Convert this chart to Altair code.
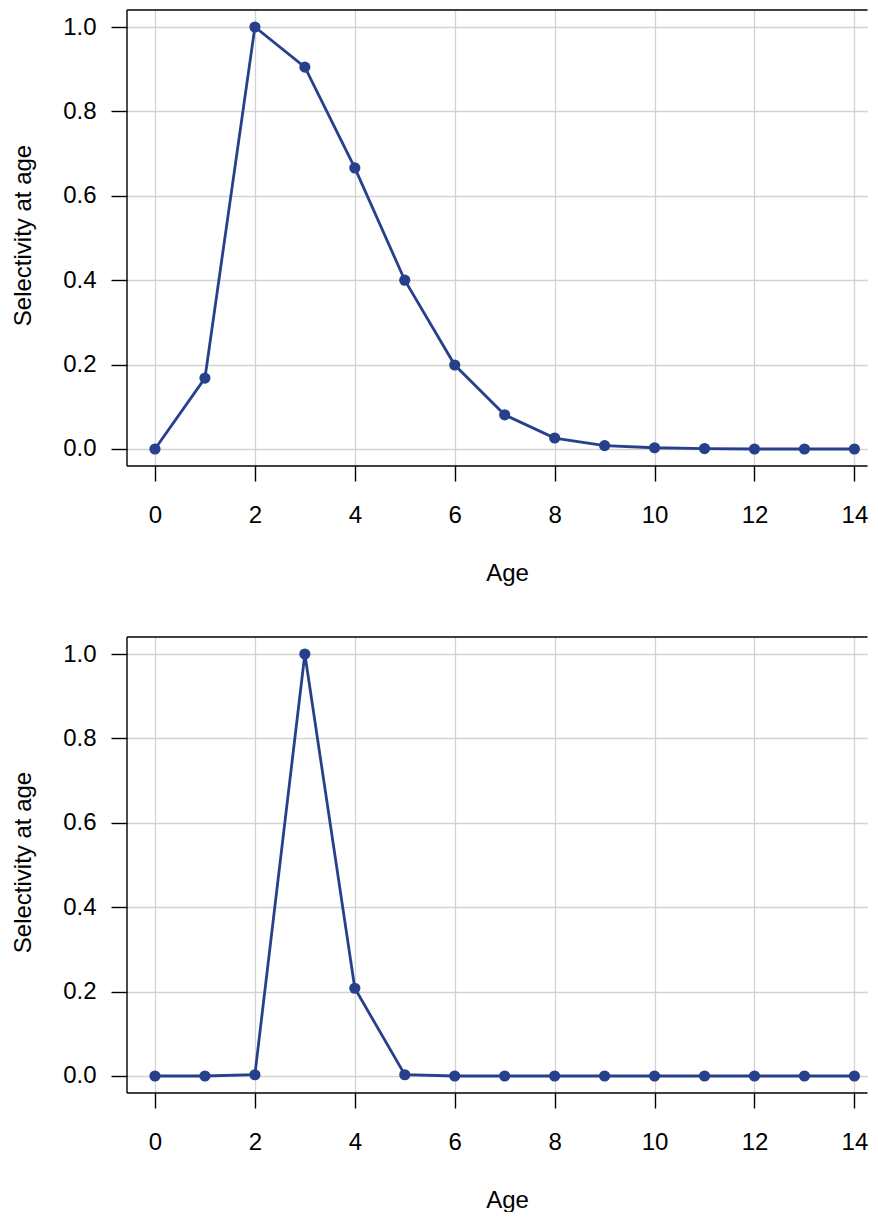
import altair as alt
import pandas as pd

ages = list(range(15))
sel_top = [0.0, 0.168, 1.0, 0.905, 0.666, 0.400, 0.199, 0.081, 0.026, 0.008, 0.003, 0.001, 0.0, 0.0, 0.0]
sel_bottom = [0.0, 0.0, 0.003, 1.0, 0.208, 0.003, 0.0, 0.0, 0.0, 0.0, 0.0, 0.0, 0.0, 0.0, 0.0]
x_ticks = [0, 2, 4, 6, 8, 10, 12, 14]
y_ticks = [0.0, 0.2, 0.4, 0.6, 0.8, 1.0]

X_DOMAIN = [-0.56, 14.262]
Y_DOMAIN = [-0.0403, 1.0403]

COLOR = "#27408B"
FONT = "Liberation Sans"


def panel(values):
    df = pd.DataFrame({"Age": ages, "Sel": values})
    x = alt.X(
        "Age:Q",
        scale=alt.Scale(domain=X_DOMAIN, nice=False, zero=False),
        axis=alt.Axis(
            values=x_ticks,
            title="Age",
            tickSize=15,
            labelPadding=41,
            labelBaseline="alphabetic",
            titleY=114,
            titleX=380,
            titleBaseline="alphabetic",
        ),
    )
    y = alt.Y(
        "Sel:Q",
        scale=alt.Scale(domain=Y_DOMAIN, nice=False, zero=False),
        axis=alt.Axis(
            values=y_ticks,
            format=".1f",
            title="Selectivity at age",
            tickSize=16,
            labelPadding=15,
            titleX=-96.5,
            titleY=225,
            titleBaseline="alphabetic",
            titleAngle=270,
        ),
    )
    base = alt.Chart(df).encode(x=x, y=y)
    line = base.mark_line(color=COLOR, strokeWidth=2.8)
    pts = base.mark_circle(color=COLOR, size=125, opacity=1)

    one = pd.DataFrame({"k": [0]})
    frame_style = dict(color="black", strokeWidth=1.4)
    top_edge = alt.Chart(one).mark_rule(**frame_style).encode(y=alt.datum(Y_DOMAIN[1]))
    bottom_edge = alt.Chart(one).mark_rule(**frame_style).encode(y=alt.datum(Y_DOMAIN[0]))
    left_edge = alt.Chart(one).mark_rule(**frame_style).encode(x=alt.datum(X_DOMAIN[0]))

    return alt.layer(line, pts, top_edge, bottom_edge, left_edge).properties(width=740.5, height=456)


chart = alt.vconcat(panel(sel_top), panel(sel_bottom), spacing=171, bounds="flush").properties(
    padding={"left": 3, "top": 1, "right": 0, "bottom": 0}
).configure_view(
    stroke=None
).configure_axis(
    domain=False,
    grid=True,
    gridColor="#d3d3d3",
    gridWidth=1.3,
    tickColor="black",
    tickWidth=1.4,
    labelFont=FONT,
    labelFontSize=24,
    labelColor="black",
    titleFont=FONT,
    titleFontSize=24,
    titleColor="black",
    titleFontWeight="normal",
)

chart.save("out.html", embed_options={"renderer": "svg", "actions": False})
